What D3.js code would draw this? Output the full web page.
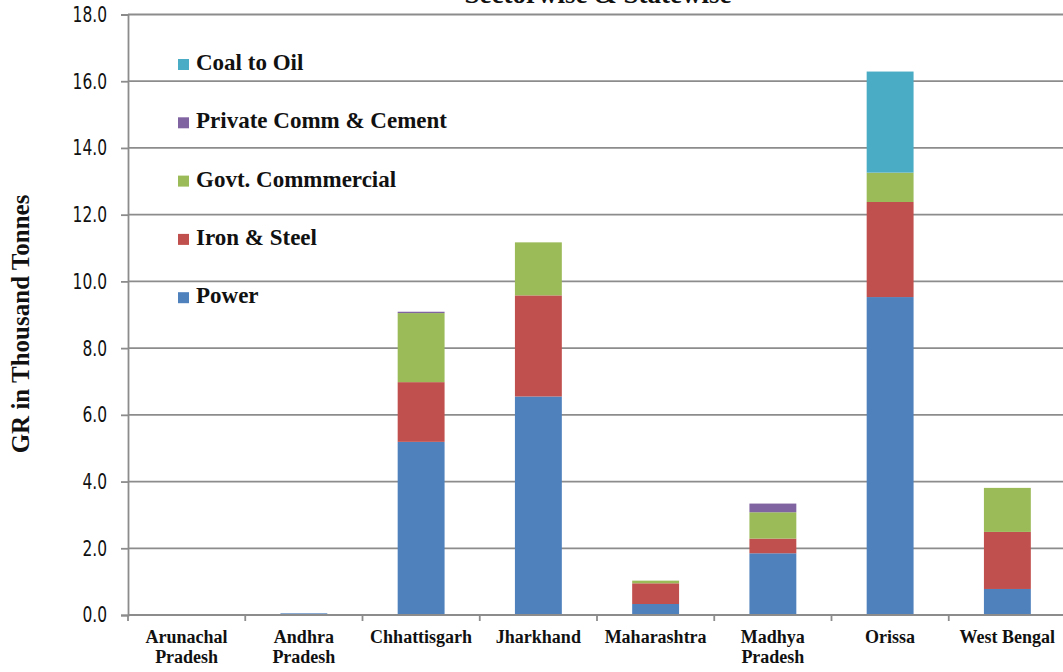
<!DOCTYPE html>
<html>
<head>
<meta charset="utf-8">
<script src="https://cdn.jsdelivr.net/npm/d3@7"></script>
<style>
  html, body { margin: 0; padding: 0; background: #fff; overflow: hidden; }
  svg { display: block; }
</style>
</head>
<body>
<svg id="chart" width="1063" height="672"></svg>
<script>
// States along the x axis
const states = [
  ["Arunachal", "Pradesh"], ["Andhra", "Pradesh"], ["Chhattisgarh"], ["Jharkhand"],
  ["Maharashtra"], ["Madhya", "Pradesh"], ["Orissa"], ["West Bengal"]
];

// Sector values (thousand tonnes), stacked bottom to top
const power         = [0, 0.05, 5.19, 6.55, 0.33, 1.85, 9.53, 0.78];
const ironSteel     = [0, 0,    1.79, 3.03, 0.62, 0.44, 2.85, 1.71];
const govtComm      = [0, 0,    2.07, 1.59, 0.08, 0.79, 0.88, 1.32];
const privateCement = [0, 0,    0.04, 0,    0,    0.26, 0,    0];
const coalToOil     = [0, 0,    0,    0,    0,    0,    3.03, 0];

const seriesNames = ["Power", "Iron & Steel", "Govt. Commmercial", "Private Comm & Cement", "Coal to Oil"];
const seriesValues = [power, ironSteel, govtComm, privateCement, coalToOil];
const seriesColors = ["#4F81BD", "#C0504D", "#9BBB59", "#8064A2", "#4BACC6"];

const yTicks = [0, 2, 4, 6, 8, 10, 12, 14, 16, 18];

const svg = d3.select("#chart");
const plotLeft = 128, plotRight = 1066, plotTop = 14.5, plotBottom = 615;

const keys = states.map((s, i) => i);
const x = d3.scaleBand().domain(keys).range([plotLeft, plotRight]).paddingInner(0.6).paddingOuter(0.3);
const xEdge = d3.scaleBand().domain(keys).range([plotLeft, plotRight]);
const y = d3.scaleLinear().domain([0, 18]).range([plotBottom, plotTop]);

const gridColor = "#8c8c8c";

// horizontal gridlines
svg.append("g")
  .selectAll("line")
  .data(yTicks.filter(t => t > 0))
  .join("line")
  .attr("x1", plotLeft).attr("x2", 1063)
  .attr("y1", d => y(d)).attr("y2", d => y(d))
  .attr("stroke", gridColor).attr("stroke-width", 1.8);

// stacked bars
const rows = keys.map(i => {
  const r = { i };
  seriesNames.forEach((n, k) => r[n] = seriesValues[k][i]);
  return r;
});
const stacked = d3.stack().keys(seriesNames)(rows);

svg.append("g")
  .selectAll("g")
  .data(stacked)
  .join("g")
  .attr("fill", (d, k) => seriesColors[k])
  .selectAll("rect")
  .data(d => d.filter(p => p[1] - p[0] > 0))
  .join("rect")
  .attr("x", d => x(d.data.i))
  .attr("width", x.bandwidth())
  .attr("y", d => y(d[1]))
  .attr("height", d => y(d[0]) - y(d[1]));

// y axis
const yAxis = svg.append("g")
  .attr("transform", `translate(${plotLeft},0)`)
  .call(d3.axisLeft(y).tickValues(yTicks).tickFormat(d3.format(".1f")).tickSizeOuter(0).tickSize(7).tickPadding(14));
yAxis.select(".domain").attr("stroke", gridColor).attr("stroke-width", 1.8);
yAxis.selectAll(".tick line").attr("stroke", gridColor).attr("stroke-width", 1.8);
yAxis.selectAll(".tick text")
  .attr("font-family", "'Liberation Sans Narrow', 'DejaVu Sans Condensed', Arial, sans-serif")
  .attr("font-size", 21.5)
  .attr("fill", "#111")
  .each(function() {
    // condensed numerals
    const w = this.getComputedTextLength();
    d3.select(this).attr("textLength", w * 0.8).attr("lengthAdjust", "spacingAndGlyphs");
  });

// x axis
const xAxis = svg.append("g")
  .attr("transform", `translate(0,${plotBottom})`);
xAxis.append("line")
  .attr("x1", plotLeft).attr("x2", 1063).attr("y1", 0).attr("y2", 0)
  .attr("stroke", gridColor).attr("stroke-width", 1.8);
xAxis.selectAll("line.tk")
  .data(keys)
  .join("line").attr("class", "tk")
  .attr("x1", d => xEdge(d)).attr("x2", d => xEdge(d))
  .attr("y1", 0).attr("y2", 6)
  .attr("stroke", gridColor).attr("stroke-width", 1.8);

const xl = xAxis.selectAll("text.lbl")
  .data(keys)
  .join("text").attr("class", "lbl")
  .attr("x", d => xEdge(d) + xEdge.bandwidth() / 2)
  .attr("y", 28)
  .attr("text-anchor", "middle")
  .attr("font-family", "'Liberation Serif', 'Times New Roman', serif")
  .attr("font-weight", "bold")
  .attr("font-size", 18)
  .attr("fill", "#111");
xl.each(function(d) {
  const t = d3.select(this);
  states[d].forEach((line, j) => {
    t.append("tspan")
      .attr("x", xEdge(d) + xEdge.bandwidth() / 2)
      .attr("dy", j === 0 ? 0 : 20)
      .text(line);
  });
});

// y axis title
svg.append("text")
  .attr("transform", "translate(29,324) rotate(-90)")
  .attr("text-anchor", "middle")
  .attr("font-family", "'Liberation Serif', 'Times New Roman', serif")
  .attr("font-weight", "bold")
  .attr("font-size", 25)
  .attr("fill", "#111")
  .text("GR in Thousand Tonnes");

// chart title (top edge)
svg.append("text")
  .attr("x", 598)
  .attr("y", 3)
  .attr("text-anchor", "middle")
  .attr("font-family", "'Liberation Serif', 'Times New Roman', serif")
  .attr("font-weight", "bold")
  .attr("font-size", 27)
  .attr("fill", "#111")
  .text("Sectorwise & Statewise");

// legend, top entry is the last series
const legendOrder = [4, 3, 2, 1, 0];
const legend = svg.append("g");
legendOrder.forEach((k, j) => {
  const by = 70 + j * 58.3;
  legend.append("rect")
    .attr("x", 178).attr("y", by - 11)
    .attr("width", 11).attr("height", 11)
    .attr("fill", seriesColors[k]);
  legend.append("text")
    .attr("x", 196).attr("y", by)
    .attr("font-family", "'Liberation Serif', 'Times New Roman', serif")
    .attr("font-weight", "bold")
    .attr("font-size", 23)
    .attr("fill", "#111")
    .text(seriesNames[k]);
});
</script>
</body>
</html>
